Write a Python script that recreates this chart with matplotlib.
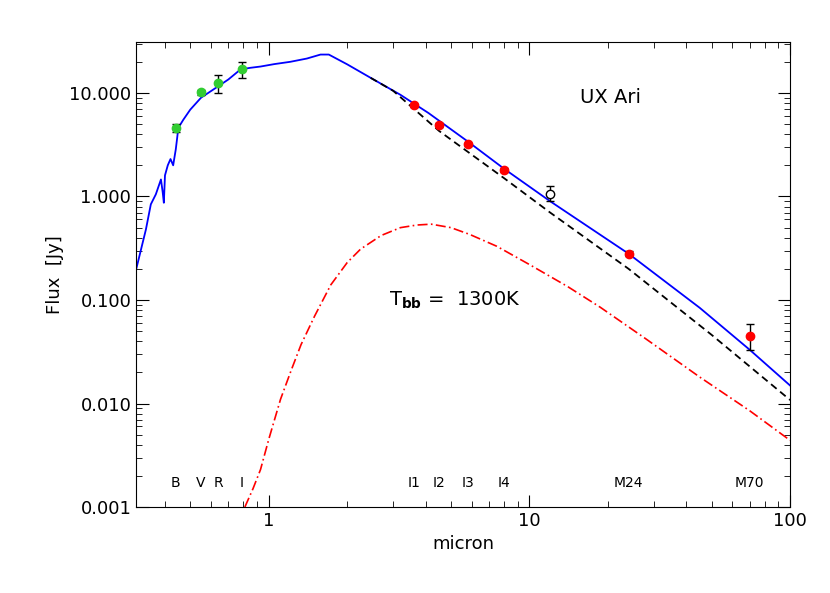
import numpy as np
import matplotlib.pyplot as plt
from matplotlib.ticker import FixedLocator, NullFormatter

# stellar spectrum + total model (blue)
spec_wl = [0.31, 0.338, 0.353, 0.369, 0.386, 0.392, 0.396, 0.40, 0.41, 0.42, 0.43, 0.44, 0.445, 0.45,
           0.47, 0.50, 0.55, 0.63, 0.70, 0.78, 0.85, 0.93, 1.05, 1.21, 1.40, 1.58, 1.70, 2.0, 2.46,
           3.2, 4.1, 5.8, 8.0, 12.0, 24.0, 45.0, 70.0, 100.0]
spec_fl = [0.197, 0.48, 0.84, 1.05, 1.46, 1.1, 0.87, 1.6, 2.0, 2.3, 2.0, 2.85, 3.6, 4.6,
           5.5, 6.9, 9.0, 11.3, 13.5, 16.9, 17.5, 18.0, 19.0, 20.0, 21.5, 23.5, 23.5, 18.9, 14.0,
           9.6, 6.4, 3.4, 1.85, 0.9, 0.28, 0.084, 0.033, 0.0149]
# photosphere (black dashed)
phot_wl = [2.46, 3.0, 4.5, 8.0, 12.0, 24.0, 50.0, 100.0]
phot_fl = [14.0, 10.5, 4.3, 1.5, 0.7, 0.2, 0.046, 0.0108]
# 1300 K blackbody (red dash-dot)
bb_wl = [0.81, 0.87, 0.93, 1.0, 1.11, 1.22, 1.33, 1.5, 1.73, 2.0, 2.25, 2.7, 3.2, 3.7, 4.2,
         5.0, 5.9, 7.5, 10.0, 14.0, 18.7, 28.0, 45.0, 70.0, 100.0]
bb_fl = [0.001, 0.0015, 0.0023, 0.0045, 0.011, 0.021, 0.037, 0.07, 0.14, 0.23, 0.31, 0.42, 0.5,
         0.53, 0.54, 0.5, 0.43, 0.33, 0.22, 0.135, 0.085, 0.042, 0.018, 0.0085, 0.0044]

opt_wl = [0.44, 0.55, 0.64, 0.79]
opt_fl = [4.6, 10.2, 12.5, 17.0]
opt_lo = [0.4, 0.6, 2.5, 3.0]
opt_hi = [0.4, 0.6, 2.5, 3.0]
ir_wl = [3.6, 4.5, 5.8, 8.0, 24.0, 70.0]
ir_fl = [7.6, 4.9, 3.2, 1.8, 0.28, 0.045]
ir_lo = [0.3, 0.2, 0.1, 0.07, 0.015, 0.012]
ir_hi = [0.3, 0.2, 0.1, 0.07, 0.015, 0.013]
open_wl = [12.0]
open_fl = [1.05]

band_wl = [0.44, 0.55, 0.64, 0.79, 3.6, 4.5, 5.8, 8.0, 24.0, 70.0]
band_lab = ['B', 'V', 'R', 'I', 'I1', 'I2', 'I3', 'I4', 'M24', 'M70']

fig = plt.figure(figsize=(8.3, 5.93), dpi=100)
ax = fig.add_axes([0.164, 0.145, 0.788, 0.784])
ax.set_xscale('log')
ax.set_yscale('log')

ax.plot(spec_wl, spec_fl, color='blue', lw=1.3)
ax.plot(phot_wl, phot_fl, color='black', ls=(0, (4, 2.5)), lw=1.3)
ax.plot(bb_wl, bb_fl, color='red', ls=(0, (6, 2, 1, 2)), lw=1.2)

ax.errorbar(opt_wl, opt_fl, yerr=[opt_lo, opt_hi], fmt='o', color='limegreen', ms=6,
            ecolor='black', capsize=3, elinewidth=1)
ax.errorbar(ir_wl, ir_fl, yerr=[ir_lo, ir_hi], fmt='o', color='red', ms=6,
            ecolor='black', capsize=3, elinewidth=1)
ax.errorbar(open_wl, open_fl, yerr=[[0.15], [0.2]], fmt='o', mfc='white', mec='black', ms=6,
            ecolor='black', capsize=3, elinewidth=1)

for w, lab in zip(band_wl, band_lab):
    ax.text(w, 0.0017, lab, ha='center', va='center', fontsize=10)

ax.text(20.4, 9.0, 'UX Ari', fontsize=14, ha='center', va='center')
ax.text(2.9, 0.1, r'T$_{\mathbf{bb}}$ =  1300K', fontsize=14, ha='left', va='center')

ax.set_xlim(0.31, 100)
ax.set_ylim(0.001, 31)
ax.set_xticks([1, 10, 100])
ax.set_xticklabels(['1', '10', '100'])
ax.set_yticks([0.001, 0.01, 0.1, 1, 10])
ax.set_yticklabels(['0.001', '0.010', '0.100', '1.000', '10.000'])
ax.xaxis.set_minor_locator(FixedLocator([m * 10.0**e for e in (-1, 0, 1) for m in range(2, 10)]))
ax.xaxis.set_minor_formatter(NullFormatter())
ax.yaxis.set_minor_locator(FixedLocator([m * 10.0**e for e in (-3, -2, -1, 0, 1) for m in range(2, 10)]))
ax.yaxis.set_minor_formatter(NullFormatter())
ax.tick_params(which='both', direction='in', top=True, right=True, labelsize=13)
ax.tick_params(which='major', length=9)
ax.tick_params(which='minor', length=4)
ax.set_xlabel('micron', fontsize=13)
ax.set_ylabel('Flux  [Jy]', fontsize=13)

fig.savefig('out.png', dpi=100)
